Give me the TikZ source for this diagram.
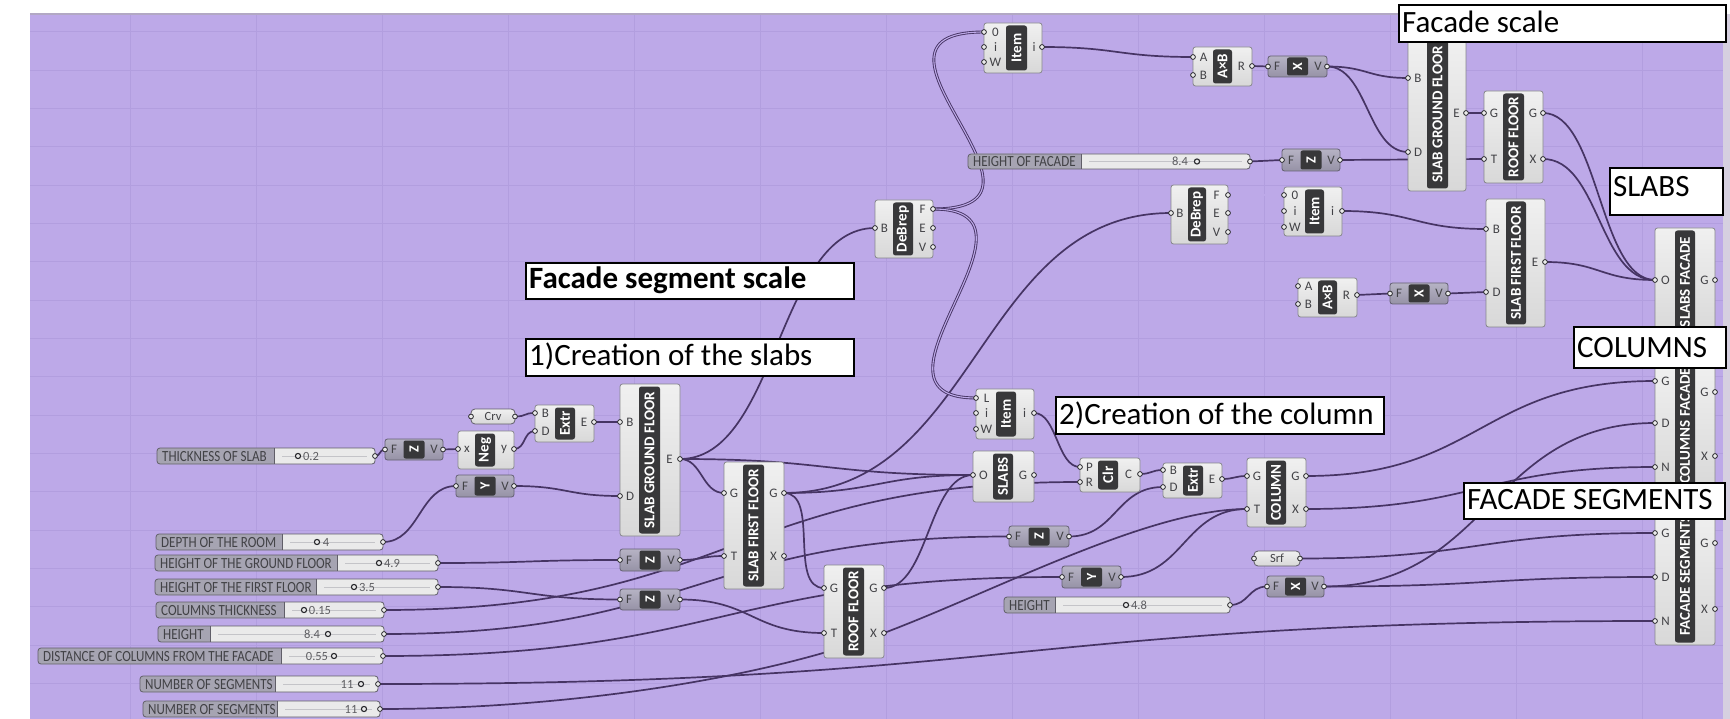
\documentclass[tikz,border=0pt]{standalone}
\usepackage{fontspec}
\setmainfont{Carlito}
\newfontfamily\ghslfont{Carlito}[FakeStretch=0.84]
\usetikzlibrary{calc}
\pgfdeclarelayer{canvas}
\pgfdeclarelayer{wirelayer}
\pgfsetlayers{canvas,wirelayer,main}

\definecolor{ghbg}{RGB}{189,169,232}
\definecolor{ghgrid}{RGB}{178,158,223}
\definecolor{ghedge}{RGB}{178,168,196}
\definecolor{ghside}{RGB}{214,208,224}
\definecolor{ghwire}{RGB}{70,52,100}
\definecolor{ghboxtop}{RGB}{240,240,240}
\definecolor{ghbox}{RGB}{216,216,216}
\definecolor{ghboxline}{RGB}{135,135,140}
\definecolor{ghbar}{RGB}{56,56,58}
\definecolor{ghvectop}{RGB}{182,179,196}
\definecolor{ghvec}{RGB}{150,146,166}
\definecolor{ghvecline}{RGB}{100,96,114}
\definecolor{ghslab}{RGB}{166,164,178}
\definecolor{ghsval}{RGB}{234,234,234}
\definecolor{ghsline}{RGB}{96,94,104}
\definecolor{ghtrack}{RGB}{196,196,200}
\definecolor{ghtext}{RGB}{66,66,70}
\definecolor{ghport}{RGB}{40,40,44}

\tikzset{
  cbox/.style={draw=ghboxline, line width=0.8pt, rounded corners=2.5pt,
    top color=ghboxtop, bottom color=ghbox, inner sep=0pt, outer sep=0pt},
  cbar/.style={fill=ghbar, rounded corners=2.5pt, inner sep=0pt, outer sep=0pt},
  bartext/.style={text=white, font=\bfseries\fontsize{15}{15}\selectfont, inner sep=0pt},
  vectext/.style={text=white, font=\bfseries\fontsize{14}{14}\selectfont, inner sep=0pt},
  plabel/.style={text=ghtext, font=\fontsize{13}{13}\selectfont, inner sep=0pt},
  vbox/.style={draw=ghvecline, line width=0.8pt, rounded corners=2.5pt,
    top color=ghvectop, bottom color=ghvec, inner sep=0pt, outer sep=0pt},
  vsq/.style={fill=ghbar, rounded corners=2pt, inner sep=0pt, outer sep=0pt},
  pbox/.style={draw=ghsline, line width=0.8pt, rounded corners=4pt,
    top color=ghboxtop, bottom color=ghbox, inner sep=0pt, outer sep=0pt,
    text=ghtext, font=\fontsize{12.5}{13}\selectfont},
  sbox/.style={fill=ghsval, inner sep=0pt, outer sep=0pt, rounded corners=3pt},
  sframe/.style={draw=ghsline, line width=0.8pt, rounded corners=3pt},
  slabel/.style={text=ghtext, font=\ghslfont\fontsize{15.5}{15.5}\selectfont, inner sep=0pt},
  svalue/.style={text=ghtext!85, font=\fontsize{12.5}{12.5}\selectfont, inner sep=0pt},
  knob/.style={draw=ghport, line width=1.1pt, fill=ghsval},
  port/.style={draw=ghport, line width=0.8pt, fill=ghsval},
  gridline/.style={draw=ghgrid, line width=0.8pt},
  wire/.style={draw=ghwire, line width=1.7pt, line cap=round},
  dwire/.style={draw=ghwire, line width=0.9pt, double=ghbg, double distance=1.1pt},
  notebox/.style={draw=black, line width=2.2pt, fill=white, inner sep=0pt, outer sep=0pt},
  notetext/.style={font=\fontsize{31}{31}\selectfont, inner sep=0pt},
  gh/.style={to path={let \p1=(\tikztostart), \p2=(\tikztotarget),
    \n1={max(0.5*abs(\x2-\x1),#1)} in
    .. controls +(\n1,0) and +(-\n1,0) .. (\tikztotarget)}},
  gh/.default=22
}

% component with a dark name bar: name, x1, y1, x2, y2, bar x1, bar x2, title
\newcommand\ghcomp[8]{%
  \expandafter\xdef\csname ghxa@#1\endcsname{#2}%
  \expandafter\xdef\csname ghxb@#1\endcsname{#6}%
  \expandafter\xdef\csname ghxc@#1\endcsname{#7}%
  \expandafter\xdef\csname ghxd@#1\endcsname{#4}%
  \node[cbox, minimum width={#4-#2}, minimum height={#5-#3}] (#1) at ({(#2+#4)/2},{(#3+#5)/2}) {};
  \node[cbar, minimum width={#7-#6}, minimum height={#5-#3-5}] (#1-bar) at ({(#6+#7)/2},{(#3+#5)/2}) {};
  \node[bartext, rotate=90] (#1-name) at (#1-bar.center) {#8};
}
% input port: component, id, y, letter
\newcommand\ghin[4]{%
  \edef\ghA{\csname ghxa@#1\endcsname}\edef\ghB{\csname ghxb@#1\endcsname}%
  \coordinate (#1-#2) at (\ghA,#3);
  \node[plabel] (#1-#2-lbl) at ({(\ghA+\ghB)/2+0.5},#3) {#4};
  \draw[port] (#1-#2) circle[radius=2.4pt];
}
% output port: component, id, y, letter
\newcommand\ghout[4]{%
  \edef\ghC{\csname ghxc@#1\endcsname}\edef\ghD{\csname ghxd@#1\endcsname}%
  \coordinate (#1-#2) at (\ghD,#3);
  \node[plabel] (#1-#2-lbl) at ({(\ghC+\ghD)/2-0.5},#3) {#4};
  \draw[port] (#1-#2) circle[radius=2.4pt];
}
% vector component F [letter] V: name, x1, y1, x2, y2, letter
\newcommand\ghvec[6]{%
  \node[vbox, minimum width={#4-#2}, minimum height={#5-#3}] (#1) at ({(#2+#4)/2},{(#3+#5)/2}) {};
  \node[vsq, minimum width=21, minimum height={#5-#3-3}] (#1-sq) at (#1.center) {};
  \node[vectext, rotate=90] (#1-name) at (#1.center) {#6};
  \node[plabel] (#1-F-lbl) at ({#2+9},{(#3+#5)/2}) {F};
  \node[plabel] (#1-V-lbl) at ({#4-9},{(#3+#5)/2}) {V};
  \coordinate (#1-F) at (#2,{(#3+#5)/2});
  \coordinate (#1-V) at (#4,{(#3+#5)/2});
  \draw[port] (#1-F) circle[radius=2.4pt];
  \draw[port] (#1-V) circle[radius=2.4pt];
}
% parameter container: name, x1, y1, x2, y2, text
\newcommand\ghparam[6]{%
  \node[pbox, minimum width={#4-#2}, minimum height={#5-#3}] (#1) at ({(#2+#4)/2},{(#3+#5)/2}) {#6};
  \coordinate (#1-in) at (#2,{(#3+#5)/2});
  \coordinate (#1-out) at (#4,{(#3+#5)/2});
  \draw[port] (#1-in) circle[radius=2.4pt];
  \draw[port] (#1-out) circle[radius=2.4pt];
}
% number slider: name, x1, y1, x2, y2, split x, label
\newcommand\ghslider[7]{%
  \node[sbox, minimum width={#4-#2}, minimum height={#5-#3}] (#1) at ({(#2+#4)/2},{(#3+#5)/2}) {};
  \fill[ghslab, rounded corners=3pt] (#2,#3) rectangle (#6,#5);
  \fill[ghslab] ({#6-4},#3) rectangle (#6,#5);
  \draw[ghtrack, line width=0.7pt] ({#6+8},{(#3+#5)/2}) -- ({#4-8},{(#3+#5)/2});
  \draw[sframe] (#2,#3) rectangle (#4,#5);
  \draw[ghsline, line width=0.8pt] (#6,#3) -- (#6,#5);
  \node[slabel, anchor=west] (#1-lbl) at ({#2+5},{(#3+#5)/2+0.5}) {#7};
  \coordinate (#1-out) at (#4,{(#3+#5)/2});
  \draw[port] (#1-out) circle[radius=2.4pt];
}
% slider value: slider, text, text x, knob x
\newcommand\ghval[4]{%
  \node[svalue] (#1-val) at (#3,0 |- #1.center) {#2};
  \draw[knob] (#4,0 |- #1.center) circle[radius=2.6pt];
}
% text note: name, x1, y1, x2, y2, baseline, text
\newcommand\ghnote[7]{%
  \node[notebox, minimum width={#4-#2}, minimum height={#5-#3}] (#1) at ({(#2+#4)/2},{(#3+#5)/2}) {};
  \node[notetext, anchor=base west] (#1-txt) at ({#2+3},#6) {#7};
}

\begin{document}
\begin{tikzpicture}[x=1pt,y=-1pt]
\useasboundingbox (0,0) rectangle (1730,719);

% canvas and grid
\begin{pgfonlayer}{canvas}
  \fill[white] (0,0) rectangle (1730,719);
  \fill[ghbg] (30,14) rectangle (1723,719);
  \fill[ghside] (1723,14) rectangle (1730,719);
  \foreach \gx in {130,256,...,1723} \draw[gridline] (\gx,14) -- (\gx,719);
  \foreach \k in {0,...,17} \draw[gridline] (30,{31.7+38.33*\k}) -- (1723,{31.7+38.33*\k});
  \draw[ghedge, line width=1.2pt] (30,14) -- (1723,14);
\end{pgfonlayer}

% ---------- slab creation ----------
\ghslider{thk}{157}{448}{375}{464}{274}{THICKNESS OF SLAB}
\ghval{thk}{0.2}{311}{298}
\ghslider{depth}{156}{534}{383}{550}{282}{DEPTH OF THE ROOM}
\ghval{depth}{4}{326}{317}
\ghslider{hgf}{155}{555}{438}{571}{337}{HEIGHT OF THE GROUND FLOOR}
\ghval{hgf}{4.9}{392}{379}
\ghslider{hff}{155}{579}{438}{595}{316}{HEIGHT OF THE FIRST FLOOR}
\ghval{hff}{3.5}{367}{354}
\ghslider{colthk}{156}{602}{384}{618}{284}{COLUMNS THICKNESS}
\ghval{colthk}{0.15}{320}{304}
\ghslider{height}{158}{626}{384}{642}{210}{HEIGHT}
\ghval{height}{8.4}{312}{328}
\ghslider{dist}{38}{648}{383}{664}{281}{DISTANCE OF COLUMNS FROM THE FACADE}
\ghval{dist}{0.55}{317}{334}
\ghslider{nsega}{140}{676}{378}{692}{275}{NUMBER OF SEGMENTS}
\ghval{nsega}{11}{347}{361}
\ghslider{nsegb}{143}{701}{380}{717}{277}{NUMBER OF SEGMENTS}
\ghval{nsegb}{11}{351}{364}

\ghvec{za}{385}{439}{443}{460}{Z}
\ghvec{ya}{456}{475}{514}{497}{Y}
\ghparam{crv}{471}{409}{515}{424}{Crv}

\ghcomp{neg}{458}{431}{514}{469}{475}{495}{Neg}
\ghin{neg}{x}{449}{x}  \ghout{neg}{y}{449}{y}
\ghcomp{extra}{535}{405}{594}{442}{555}{575}{Extr}
\ghin{extra}{B}{413}{B} \ghin{extra}{D}{431}{D} \ghout{extra}{E}{422}{E}

\ghcomp{sgfa}{620}{384}{680}{536}{639}{660}{SLAB GROUND FLOOR}
\ghin{sgfa}{B}{422}{B} \ghin{sgfa}{D}{496}{D} \ghout{sgfa}{E}{459}{E}

\ghvec{zb}{620}{549}{680}{571}{Z}
\ghvec{zc}{620}{589}{680}{610}{Z}

\ghcomp{sffa}{724}{462}{784}{589}{743}{764}{SLAB FIRST FLOOR}
\ghin{sffa}{Gi}{493}{G} \ghin{sffa}{T}{556}{T}
\ghout{sffa}{Go}{493}{G} \ghout{sffa}{X}{556}{X}

\ghcomp{roofa}{824}{565}{884}{658}{843}{864}{ROOF FLOOR}
\ghin{roofa}{Gi}{588}{G} \ghin{roofa}{T}{633}{T}
\ghout{roofa}{Go}{588}{G} \ghout{roofa}{X}{633}{X}

\ghcomp{debrepa}{875}{200}{933}{258}{893}{913}{DeBrep}
\ghin{debrepa}{B}{228}{B}
\ghout{debrepa}{F}{209}{F} \ghout{debrepa}{E}{228}{E} \ghout{debrepa}{V}{247}{V}

\ghcomp{itema}{984}{23}{1042}{73}{1006}{1027}{Item}
\ghin{itema}{0}{32}{0} \ghin{itema}{ii}{47}{i} \ghin{itema}{W}{62}{W}
\ghout{itema}{io}{47}{i}

\ghslider{hfac}{968}{154}{1250}{169}{1081}{HEIGHT OF FACADE}
\ghval{hfac}{8.4}{1180}{1197}

% ---------- column creation ----------
\ghcomp{itemb}{976}{389}{1034}{439}{996}{1016}{Item}
\ghin{itemb}{L}{398}{L} \ghin{itemb}{ii}{413}{i} \ghin{itemb}{W}{429}{W}
\ghout{itemb}{io}{413}{i}

\ghcomp{slabs}{973}{451}{1034}{502}{993}{1013}{SLABS}
\ghin{slabs}{O}{475}{O} \ghout{slabs}{G}{475}{G}

\ghcomp{clr}{1080}{458}{1140}{492}{1098}{1118}{Clr}
\ghin{clr}{P}{467}{P} \ghin{clr}{R}{482}{R} \ghout{clr}{C}{474}{C}

\ghcomp{extrb}{1163}{463}{1222}{498}{1183}{1203}{Extr}
\ghin{extrb}{B}{470}{B} \ghin{extrb}{D}{487}{D} \ghout{extrb}{E}{479}{E}

\ghvec{zd}{1009}{526}{1069}{547}{Z}
\ghvec{yb}{1062}{566}{1121}{588}{Y}

\ghcomp{column}{1247}{458}{1306}{527}{1266}{1286}{COLUMN}
\ghin{column}{Gi}{476}{G} \ghin{column}{T}{509}{T}
\ghout{column}{Go}{476}{G} \ghout{column}{X}{509}{X}

\ghparam{srf}{1254}{551}{1300}{566}{Srf}
\ghslider{hcol}{1004}{597}{1230}{613}{1055}{HEIGHT}
\ghval{hcol}{4.8}{1139}{1126}
\ghvec{xc}{1267}{576}{1324}{597}{X}

% ---------- facade scale ----------
\ghcomp{axba}{1193}{47}{1252}{86}{1213}{1232}{A×B}
\ghin{axba}{A}{57}{A} \ghin{axba}{B}{75}{B} \ghout{axba}{R}{66}{R}
\ghvec{xa}{1268}{56}{1327}{77}{X}
\ghvec{ze}{1282}{149}{1340}{171}{Z}

\ghcomp{sgfb}{1408}{38}{1466}{191}{1427}{1448}{SLAB GROUND FLOOR}
\ghin{sgfb}{B}{78}{B} \ghin{sgfb}{D}{152}{D} \ghout{sgfb}{E}{113}{E}

\ghcomp{roofb}{1484}{91}{1543}{183}{1503}{1524}{ROOF FLOOR}
\ghin{roofb}{Gi}{113}{G} \ghin{roofb}{T}{159}{T}
\ghout{roofb}{Go}{113}{G} \ghout{roofb}{X}{159}{X}

\ghcomp{debrepb}{1171}{185}{1228}{244}{1188}{1206}{DeBrep}
\ghin{debrepb}{B}{213}{B}
\ghout{debrepb}{F}{195}{F} \ghout{debrepb}{E}{213}{E} \ghout{debrepb}{V}{232}{V}

\ghcomp{itemc}{1284}{187}{1342}{236}{1305}{1324}{Item}
\ghin{itemc}{0}{195}{0} \ghin{itemc}{ii}{211}{i} \ghin{itemc}{W}{227}{W}
\ghout{itemc}{io}{211}{i}

\ghcomp{axbb}{1298}{278}{1357}{317}{1318}{1337}{A×B}
\ghin{axbb}{A}{286}{A} \ghin{axbb}{B}{304}{B} \ghout{axbb}{R}{295}{R}
\ghvec{xb}{1390}{283}{1448}{304}{X}

\ghcomp{sffb}{1486}{199}{1545}{327}{1506}{1526}{SLAB FIRST FLOOR}
\ghin{sffb}{B}{229}{B} \ghin{sffb}{D}{292}{D} \ghout{sffb}{E}{262}{E}

% ---------- output stack ----------
\ghcomp{slabsf}{1655}{228}{1715}{336}{1675}{1695}{SLABS FACADE}
\ghin{slabsf}{O}{280}{O} \ghout{slabsf}{G}{280}{G}

\ghcomp{colf}{1655}{362}{1715}{490}{1675}{1695}{COLUMNS FACADE}
\ghin{colf}{Gi}{381}{G} \ghin{colf}{D}{423}{D} \ghin{colf}{N}{467}{N}
\ghout{colf}{Go}{392}{G} \ghout{colf}{X}{456}{X}

\ghcomp{fseg}{1655}{506}{1715}{645}{1675}{1695}{FACADE SEGMENTS}
\ghin{fseg}{Gi}{533}{G} \ghin{fseg}{D}{577}{D} \ghin{fseg}{N}{621}{N}
\ghout{fseg}{Go}{543}{G} \ghout{fseg}{X}{609}{X}

\coordinate (nsegb-pass) at (884,633);

% ---------- wires ----------
\begin{pgfonlayer}{wirelayer}
  \draw[wire] (thk-out) to[gh=6] (za-F);
  \draw[wire] (za-V) to[gh=8] (neg-x);
  \draw[wire] (neg-y) to[gh=12] (extra-D);
  \draw[wire] (crv-out) to[gh=12] (extra-B);
  \draw[wire] (extra-E) to[gh=12] (sgfa-B);
  \draw[wire] (depth-out) to[gh] (ya-F);
  \draw[wire] (ya-V) to[gh] (sgfa-D);
  \draw[wire] (sgfa-E) to[gh] (debrepa-B);
  \draw[wire] (sgfa-E) to[gh] (sffa-Gi);
  \draw[wire] (sgfa-E) to[gh] (slabs-O);
  \draw[wire] (hgf-out) to[gh] (zb-F);
  \draw[wire] (zb-V) to[gh] (sffa-T);
  \draw[wire] (hff-out) to[gh] (zc-F);
  \draw[wire] (zc-V) to[gh] (roofa-T);
  \draw[wire] (sffa-Go) to[gh=36] (roofa-Gi);
  \draw[wire] (sffa-Go) to[gh] (slabs-O);
  \draw[wire] (sffa-Go) to[gh] (debrepb-B);
  \draw[wire] (roofa-Go) to[gh] (slabs-O);
  \draw[wire] (colthk-out) to[gh] (clr-R);
  \draw[wire] (height-out) to[gh] (zd-F);
  \draw[wire] (dist-out) to[gh] (yb-F);
  \draw[wire] (nsega-out) to[gh] (fseg-N);
  \draw[wire] (nsegb-out) .. controls +(180,0) and +(-124,47) .. (nsegb-pass)
                          .. controls +(116,-44) and +(-97,0) .. (column-T);
  \draw[wire] (yb-V) to[gh] (column-T);
  \draw[wire] (itemb-io) to[gh] (clr-P);
  \draw[wire] (clr-C) to[gh=10] (extrb-B);
  \draw[wire] (zd-V) to[gh] (extrb-D);
  \draw[wire] (extrb-E) to[gh=10] (column-Gi);
  \draw[wire] (column-Go) to[gh] (colf-Gi);
  \draw[wire] (column-X) to[gh] (colf-N);
  \draw[dwire] (debrepa-F) to[gh=150] (itema-0);
  \draw[dwire] (debrepa-F) to[gh=130] (itemb-L);
  \draw[wire] (itema-io) to[gh] (axba-A);
  \draw[wire] (axba-R) to[gh=6] (xa-F);
  \draw[wire] (xa-V) to[gh] (sgfb-B);
  \draw[wire] (xa-V) to[gh] (sgfb-D);
  \draw[wire] (hfac-out) to[gh=12] (ze-F);
  \draw[wire] (ze-V) to[gh] (roofb-T);
  \draw[wire] (sgfb-E) to[gh=8] (roofb-Gi);
  \draw[dwire] (debrepb-F) to[gh] (itemc-0);
  \draw[wire] (itemc-io) to[gh] (sffb-B);
  \draw[wire] (axbb-R) to[gh=14] (xb-F);
  \draw[wire] (xb-V) to[gh=14] (sffb-D);
  \draw[wire] (roofb-Go) to[gh] (slabsf-O);
  \draw[wire] (roofb-X) to[gh] (slabsf-O);
  \draw[wire] (sffb-E) to[gh] (slabsf-O);
  \draw[wire] (hcol-out) to[gh=14] (xc-F);
  \draw[wire] (xc-V) to[gh] (colf-D);
  \draw[wire] (xc-V) to[gh] (fseg-D);
  \draw[wire] (srf-out) to[gh] (fseg-Gi);
\end{pgfonlayer}

% ---------- notes ----------
\ghnote{nfscale}{1399}{5}{1726}{42}{33}{Facade scale}
\ghnote{nsegscale}{526}{263}{854}{299}{289}{\bfseries Facade segment scale}
\ghnote{nslabsstep}{526}{339}{854}{376}{366}{1)Creation of the slabs}
\ghnote{ncolstep}{1056}{397}{1384}{434}{424}{2)Creation of the column}
\ghnote{nslabs}{1610}{168}{1723}{215}{197}{SLABS}
\ghnote{ncols}{1574}{327}{1726}{368}{358}{COLUMNS}
\ghnote{nfsegs}{1464}{483}{1725}{519}{509}{FACADE SEGMENTS}
\end{tikzpicture}
\end{document}
